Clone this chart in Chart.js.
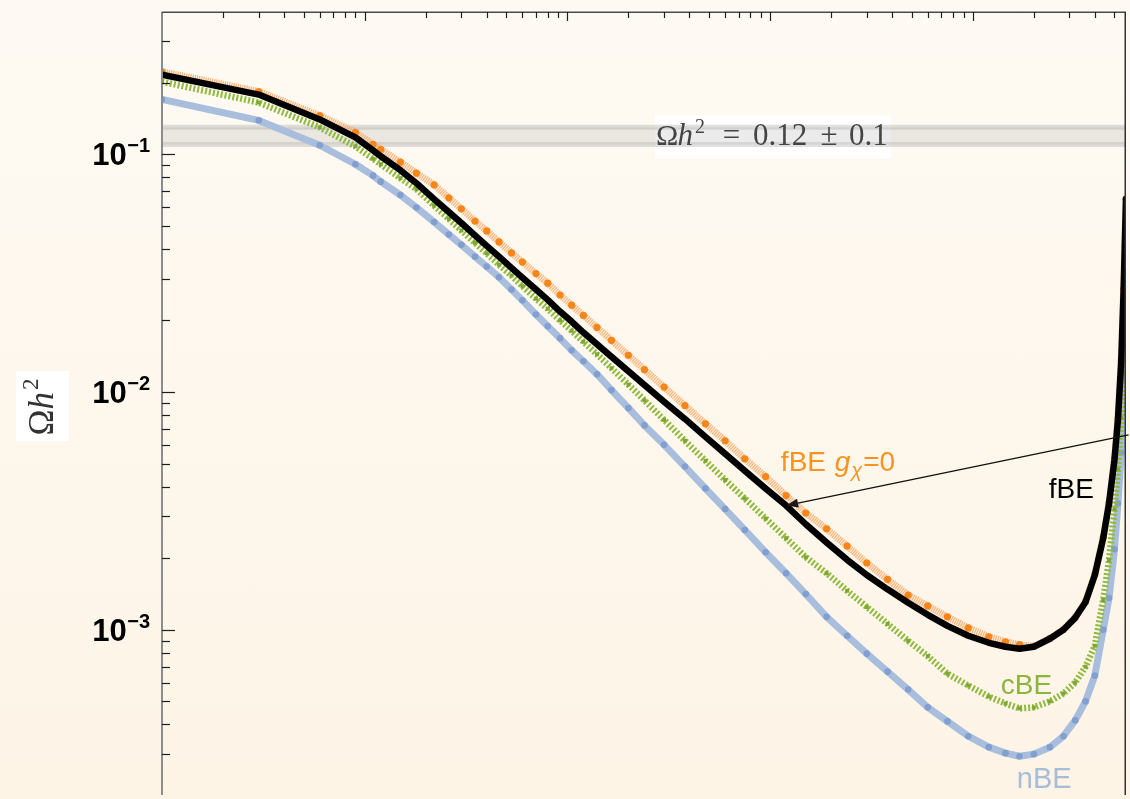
<!DOCTYPE html>
<html>
<head>
<meta charset="utf-8">
<script src="https://cdn.jsdelivr.net/npm/chart.js@4.4.1/dist/chart.umd.min.js"></script>
<style>
  html, body { margin: 0; padding: 0; width: 1130px; height: 799px; overflow: hidden;
    background: linear-gradient(#fefaf3, #fdf4e6); }
  canvas { display: block; }
</style>
</head>
<body>
<canvas id="relic" width="1130" height="799"></canvas>
<script>
// Sample points shared by all four curves (log-spaced abscissa)
const xValues = [1, 3, 6, 9, 11, 12, 15, 18, 22, 26, 30, 35, 40, 46, 53, 60, 70, 80, 92, 105,
  120, 140, 165, 200, 240, 300, 380, 480, 600, 750, 950, 1200, 1500, 1900, 2400, 3000, 3800,
  4800, 6000, 7500, 9500, 12000, 14500, 17000, 20000, 24000, 28000, 32000, 36000, 40000,
  44000, 47000, 50000, 52000, 54000, 55500, 57000];

// Relic abundance Omega h^2 for each treatment
const fBE = [0.2162, 0.1782, 0.1401, 0.1178, 0.1039, 0.0981, 0.0857, 0.0756, 0.0648, 0.0572,
  0.0514, 0.0456, 0.0412, 0.0371, 0.0333, 0.0303, 0.0270, 0.0244, 0.0218, 0.0198,
  0.0178, 0.0159, 0.01408, 0.01224, 0.01070, 0.00911, 0.00771, 0.00648, 0.00550, 0.00467,
  0.00393, 0.00333, 0.00278, 0.00233, 0.00197, 0.00170, 0.00148, 0.00130, 0.001156, 0.001039,
  0.000944, 0.000882, 0.000849, 0.000833, 0.000849, 0.000917, 0.001000, 0.001123, 0.001310, 0.00170,
  0.00243, 0.00340, 0.00519, 0.00763, 0.01348, 0.0270, 0.0648];

const fBEgx0 = [0.2225, 0.1835, 0.1456, 0.1236, 0.1101, 0.1049, 0.0926, 0.0833, 0.0744, 0.0656,
  0.0590, 0.0524, 0.0476, 0.0428, 0.0385, 0.0352, 0.0315, 0.0287, 0.0256, 0.0232,
  0.0210, 0.0187, 0.01651, 0.01428, 0.01242, 0.01049, 0.00878, 0.00735, 0.00624, 0.00524,
  0.00441, 0.00367, 0.00310, 0.00266, 0.00225, 0.00191, 0.00163, 0.00140, 0.00126, 0.001134,
  0.001019, 0.000935, 0.000891, 0.000866, 0.000852, 0.000920, 0.001003, 0.001127, 0.001314, 0.00171,
  0.00244, 0.00341, 0.00521, 0.00766, 0.01353, 0.0271, 0.0650];

const cBE = [0.2020, 0.1651, 0.1297, 0.1080, 0.0957, 0.0908, 0.0793, 0.0714, 0.0608, 0.0535,
  0.0478, 0.0424, 0.0383, 0.0343, 0.0309, 0.0279, 0.0247, 0.0224, 0.0200, 0.0181,
  0.01627, 0.01442, 0.01260, 0.01075, 0.00923, 0.00763, 0.00624, 0.00514, 0.00427, 0.00357,
  0.00294, 0.00243, 0.00202, 0.00173, 0.00146, 0.001248, 0.001059, 0.000899, 0.000775, 0.000654,
  0.000583, 0.000524, 0.000490, 0.000467, 0.000472, 0.000500, 0.000540, 0.000600, 0.000700, 0.000857,
  0.001335, 0.00196, 0.00321, 0.00472, 0.00778, 0.01201, 0.0330];

const nBE = [0.1699, 0.1388, 0.1091, 0.0908, 0.0813, 0.0767, 0.0674, 0.0597, 0.0519, 0.0460,
  0.0416, 0.0371, 0.0337, 0.0304, 0.0270, 0.0243, 0.0212, 0.0189, 0.01682, 0.01498,
  0.01348, 0.01189, 0.01019, 0.00857, 0.00724, 0.00600, 0.00486, 0.00393, 0.00322, 0.00263,
  0.00212, 0.00173, 0.001414, 0.001134, 0.000944, 0.000794, 0.000667, 0.000561, 0.000472, 0.000412,
  0.000357, 0.000321, 0.000303, 0.000294, 0.000300, 0.000321, 0.000357, 0.000416, 0.000500, 0.000642,
  0.001000, 0.001361, 0.00218, 0.00340, 0.00556, 0.01144, 0.0247];

// Axis ranges and labelled decades
const xRange = [1, 57000];
const yRange = [2.02e-4, 0.3966];
const yTickExponents = [-1, -2, -3];

// Observed relic density band
const relicValue = 0.12;
const relicHalfWidth = 0.01;
const bandEdges = [xRange[0], xRange[1]];

// Curve labels, anchored in data coordinates
const curveLabels = {
  fBEgx0: { x: 1130, y: 0.00467, color: '#f7931e' },
  fBE:    { x: 23680, y: 0.00360, color: '#000000' },
  cBE:    { x: 13740, y: 0.000535, color: '#8cb43e' },
  nBE:    { x: 16480, y: 0.000216, color: '#a9bcda' }
};
const arrowTail = { x: 58700, y: 0.0066 };
const arrowTargetX = 1200;
const bandLabelX = 1000;

const SANS = '"Liberation Sans", Arial, sans-serif';
const SERIF = '"Liberation Serif", "Times New Roman", serif';

const pts = (ys) => xValues.map((x, i) => ({ x, y: ys[i] }));

// Draws text pieces one after another; each piece may carry its own font,
// a gap before it and a vertical shift. Returns the x where the run ends.
function drawSequence(ctx, pieces, x0, baseline) {
  let cx = x0;
  for (const p of pieces) {
    ctx.font = p.font;
    cx += p.gap || 0;
    ctx.fillText(p.t, cx, baseline + (p.dy || 0));
    cx += ctx.measureText(p.t).width;
  }
  return cx;
}
function sequenceWidth(ctx, pieces) {
  let w = 0;
  for (const p of pieces) { ctx.font = p.font; w += (p.gap || 0) + ctx.measureText(p.t).width; }
  return w;
}
function drawCentered(ctx, t, font, cx, baseline) {
  ctx.font = font;
  ctx.fillText(t, cx - ctx.measureText(t).width / 2, baseline);
}

const framePlugin = {
  id: 'frame',
  beforeDatasetsDraw(chart) {
    const { ctx, scales: { x, y } } = chart;
    const cx = x.getPixelForValue(bandLabelX);
    const cy = y.getPixelForValue(relicValue);
    ctx.save();
    ctx.fillStyle = '#ffffff';
    ctx.fillRect(cx - 115, cy - 20, 236, 43);
    ctx.restore();
  },
  afterDatasetsDraw(chart) {
    const { ctx, chartArea: a, scales: { x, y } } = chart;
    ctx.save();
    ctx.textBaseline = 'alphabetic';
    ctx.textAlign = 'left';

    // frame
    ctx.lineWidth = 2;
    ctx.strokeStyle = '#8c8c8c';
    ctx.beginPath(); ctx.moveTo(a.left, a.top); ctx.lineTo(a.left, a.bottom); ctx.stroke();
    ctx.lineWidth = 1.5;
    ctx.strokeStyle = '#4a4a4a';
    ctx.beginPath(); ctx.moveTo(a.left, a.top + 0.25); ctx.lineTo(a.right, a.top + 0.25); ctx.stroke();
    ctx.strokeStyle = '#333333';
    ctx.beginPath(); ctx.moveTo(a.right - 0.75, a.top); ctx.lineTo(a.right - 0.75, a.bottom); ctx.stroke();

    // inward tick marks
    ctx.strokeStyle = '#1e1e1e';
    ctx.lineWidth = 1.2;
    for (let e = -4; e <= 0; e++) {
      for (let k = 1; k <= 9; k++) {
        const v = k * Math.pow(10, e);
        if (v < yRange[0] || v > yRange[1]) continue;
        const py = Math.round(y.getPixelForValue(v)) + 0.5;
        const len = k === 1 ? 13 : 8;
        ctx.beginPath(); ctx.moveTo(a.left, py); ctx.lineTo(a.left + len, py); ctx.stroke();
      }
    }
    for (let e = 0; e <= 5; e++) {
      for (let k = 1; k <= 9; k++) {
        const v = k * Math.pow(10, e);
        if (v <= xRange[0] || v > xRange[1]) continue;
        const px = Math.round(x.getPixelForValue(v)) + 0.5;
        const len = k === 1 ? 9 : 6;
        ctx.beginPath(); ctx.moveTo(px, a.top); ctx.lineTo(px, a.top + len); ctx.stroke();
      }
    }

    // y tick labels 10^n
    ctx.fillStyle = '#000000';
    ctx.textAlign = 'right';
    for (const e of yTickExponents) {
      const py = y.getPixelForValue(Math.pow(10, e));
      const sup = '\u2212' + Math.abs(e);
      const right = a.left - 12;
      ctx.font = 'bold 20px ' + SANS;
      const wSup = ctx.measureText(sup).width;
      ctx.fillText(sup, right, py - 2);
      ctx.font = 'bold 31px ' + SANS;
      ctx.fillText('10', right - wSup - 0.5, py + 11);
    }
    ctx.textAlign = 'left';

    // y axis title on a white plate
    ctx.fillStyle = '#ffffff';
    ctx.fillRect(16, 371, 53, 70);
    ctx.save();
    ctx.translate(53, 407);
    ctx.rotate(-Math.PI / 2);
    ctx.fillStyle = '#333333';
    const yTitle = [
      { t: '\u03A9', font: '35px ' + SERIF },
      { t: 'h', font: 'italic 35px ' + SERIF, gap: 0 },
      { t: '2', font: '23px ' + SERIF, gap: 2, dy: -15 }
    ];
    drawSequence(ctx, yTitle, -sequenceWidth(ctx, yTitle) / 2, 0);
    ctx.restore();

    // relic band label
    const bx = x.getPixelForValue(bandLabelX);
    const by = y.getPixelForValue(relicValue) + 10;
    ctx.fillStyle = '#444444';
    drawSequence(ctx, [
      { t: '\u03A9', font: '30px ' + SERIF },
      { t: 'h', font: 'italic 31px ' + SERIF, gap: -1 },
      { t: '2', font: '20px ' + SERIF, gap: 2, dy: -12 }
    ], bx - 114, by);
    drawCentered(ctx, '=', '31px ' + SERIF, bx - 38.5, by);
    ctx.font = '31px ' + SERIF;
    ctx.fillText('0.12', bx - 17, by);
    drawCentered(ctx, '\u00B1', '31px ' + SERIF, bx + 59, by);
    ctx.font = '31px ' + SERIF;
    ctx.fillText('0.1', bx + 79, by);

    // arrow from the right edge to the fBE curve
    const ti = xValues.indexOf(arrowTargetX);
    const tipX = x.getPixelForValue(arrowTargetX);
    const tipY = y.getPixelForValue(fBE[ti]);
    const tailX = x.getPixelForValue(arrowTail.x);
    const tailY = y.getPixelForValue(arrowTail.y);
    const ang = Math.atan2(tipY - tailY, tipX - tailX);
    const headLen = 12, headHalf = 4.5;
    const baseX = tipX - headLen * Math.cos(ang), baseY = tipY - headLen * Math.sin(ang);
    ctx.strokeStyle = '#111111';
    ctx.lineWidth = 1.3;
    ctx.beginPath(); ctx.moveTo(tailX, tailY); ctx.lineTo(baseX, baseY); ctx.stroke();
    ctx.fillStyle = '#1a1a1a';
    ctx.beginPath();
    ctx.moveTo(tipX, tipY);
    ctx.lineTo(baseX - headHalf * Math.sin(ang), baseY + headHalf * Math.cos(ang));
    ctx.lineTo(baseX + headHalf * Math.sin(ang), baseY - headHalf * Math.cos(ang));
    ctx.closePath(); ctx.fill();

    // curve labels
    let L = curveLabels.fBEgx0;
    ctx.fillStyle = L.color;
    drawSequence(ctx, [
      { t: 'fBE ', font: '28px ' + SANS },
      { t: 'g', font: 'italic 28px ' + SANS, gap: 1 },
      { t: '\u03C7', font: 'italic 20px ' + SANS, gap: 1, dy: 6 },
      { t: '=0', font: '28px ' + SANS, gap: 1 }
    ], x.getPixelForValue(L.x), y.getPixelForValue(L.y));

    for (const key of ['fBE', 'cBE', 'nBE']) {
      L = curveLabels[key];
      ctx.fillStyle = L.color;
      ctx.font = (key === 'nBE' ? '29px ' : '28px ') + SANS;
      ctx.fillText(key, x.getPixelForValue(L.x), y.getPixelForValue(L.y));
    }
    ctx.restore();
  }
};

new Chart(document.getElementById('relic'), {
  type: 'line',
  data: {
    datasets: [
      { label: 'fBE', data: pts(fBE), order: 0,
        borderColor: '#000000', borderWidth: 6.5, pointRadius: 0,
        borderJoinStyle: 'round', borderCapStyle: 'round' },
      { label: 'fBE g_chi=0', data: pts(fBEgx0), order: 1,
        borderColor: 'rgba(250,165,95,0.8)', borderWidth: 7, borderDash: [1.3, 0.9],
        pointRadius: 3.6, pointBackgroundColor: '#f7861a', pointBorderWidth: 0 },
      { label: 'cBE', data: pts(cBE), order: 2,
        borderColor: '#8fba3e', borderWidth: 6.5, borderDash: [2, 2],
        pointStyle: 'rect', pointRadius: 2.8, pointBackgroundColor: '#7ea833', pointBorderWidth: 0 },
      { label: 'nBE', data: pts(nBE), order: 3,
        borderColor: '#a9bedc', borderWidth: 7, borderJoinStyle: 'round',
        pointRadius: 3.3, pointBackgroundColor: '#819fd1', pointBorderWidth: 0 },
      { label: 'band upper', data: bandEdges.map(x => ({ x, y: relicValue + relicHalfWidth })), order: 5,
        borderColor: 'rgba(160,160,160,0.32)', borderWidth: 5, pointRadius: 0,
        fill: '+1', backgroundColor: 'rgba(190,190,190,0.30)' },
      { label: 'band lower', data: bandEdges.map(x => ({ x, y: relicValue - relicHalfWidth })), order: 6,
        borderColor: 'rgba(160,160,160,0.32)', borderWidth: 5, pointRadius: 0, fill: false }
    ]
  },
  options: {
    responsive: false,
    animation: false,
    devicePixelRatio: 1,
    layout: { padding: { left: 162, top: 12, right: 2, bottom: 0 } },
    elements: { line: { tension: 0 } },
    scales: {
      x: { type: 'logarithmic', min: xRange[0], max: xRange[1], display: false },
      y: { type: 'logarithmic', min: yRange[0], max: yRange[1], display: false }
    },
    plugins: { legend: { display: false }, tooltip: { enabled: false } }
  },
  plugins: [framePlugin]
});
</script>
</body>
</html>
